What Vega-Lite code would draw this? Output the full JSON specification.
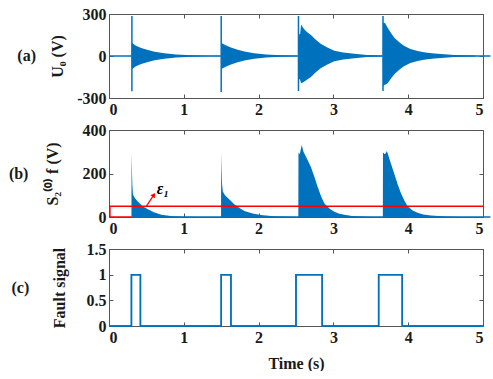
{
  "$schema": "https://vega.github.io/schema/vega-lite/v6.json",
  "padding": {"left": 8, "top": 6, "right": 0, "bottom": 0},
  "background": "white",
  "config": {
    "view": {"stroke": null},
    "font": "Liberation Serif",
    "axis": {
      "labelFont": "Liberation Serif", "labelFontSize": 16, "labelFontWeight": "bold", "labelColor": "#1a1a1a",
      "domainColor": "#555555", "tickColor": "#555555", "tickSize": -4, "grid": false,
      "titleFont": "Liberation Serif", "titleFontSize": 16, "titleFontWeight": "bold", "titleColor": "#1a1a1a",
      "labelPadding": 7, "labelExpr": "'' + datum.value"
    },
    "title": {"font": "Liberation Serif", "fontSize": 16, "fontWeight": "bold", "color": "#1a1a1a"}
  },
  "datasets": {
    "base": [{"t": 0, "v": 0}, {"t": 5.1, "v": 0}],
    "baseb": [{"t": 0.3, "v": 0}, {"t": 5.1, "v": 0}],
    "ua": [
      {"b": 1, "t": 0.304, "hi": 0, "lo": 0}, {"b": 1, "t": 0.307, "hi": 95, "lo": -95}, {"b": 1, "t": 0.32, "hi": 90, "lo": -90},
      {"b": 1, "t": 0.36, "hi": 74, "lo": -74}, {"b": 1, "t": 0.43, "hi": 58, "lo": -58}, {"b": 1, "t": 0.52, "hi": 42, "lo": -42},
      {"b": 1, "t": 0.61, "hi": 31, "lo": -31}, {"b": 1, "t": 0.74, "hi": 19, "lo": -19}, {"b": 1, "t": 0.9, "hi": 10, "lo": -10},
      {"b": 1, "t": 1.1, "hi": 5, "lo": -5}, {"b": 1, "t": 1.3, "hi": 2, "lo": -2}, {"b": 1, "t": 1.49, "hi": 1, "lo": -1},
      {"b": 2, "t": 1.498, "hi": 0, "lo": 0}, {"b": 2, "t": 1.501, "hi": 95, "lo": -95}, {"b": 2, "t": 1.515, "hi": 90, "lo": -90},
      {"b": 2, "t": 1.56, "hi": 76, "lo": -76}, {"b": 2, "t": 1.63, "hi": 60, "lo": -60}, {"b": 2, "t": 1.72, "hi": 44, "lo": -44},
      {"b": 2, "t": 1.81, "hi": 32, "lo": -32}, {"b": 2, "t": 1.94, "hi": 20, "lo": -20}, {"b": 2, "t": 2.1, "hi": 10, "lo": -10},
      {"b": 2, "t": 2.3, "hi": 5, "lo": -5}, {"b": 2, "t": 2.52, "hi": 2, "lo": -2},
      {"b": 3, "t": 2.531, "hi": 0, "lo": 0}, {"b": 3, "t": 2.534, "hi": 155, "lo": -160}, {"b": 3, "t": 2.555, "hi": 155, "lo": -170},
      {"b": 3, "t": 2.568, "hi": 225, "lo": -195}, {"b": 3, "t": 2.59, "hi": 205, "lo": -190}, {"b": 3, "t": 2.613, "hi": 190, "lo": -182},
      {"b": 3, "t": 2.65, "hi": 170, "lo": -168}, {"b": 3, "t": 2.7, "hi": 150, "lo": -150}, {"b": 3, "t": 2.76, "hi": 118, "lo": -118},
      {"b": 3, "t": 2.835, "hi": 86, "lo": -86}, {"b": 3, "t": 2.92, "hi": 60, "lo": -60}, {"b": 3, "t": 3.013, "hi": 38, "lo": -38},
      {"b": 3, "t": 3.13, "hi": 25, "lo": -25}, {"b": 3, "t": 3.28, "hi": 16, "lo": -16}, {"b": 3, "t": 3.45, "hi": 8, "lo": -8},
      {"b": 3, "t": 3.66, "hi": 3, "lo": -3},
      {"b": 4, "t": 3.661, "hi": 0, "lo": 0}, {"b": 4, "t": 3.664, "hi": 238, "lo": -215}, {"b": 4, "t": 3.69, "hi": 236, "lo": -205},
      {"b": 4, "t": 3.725, "hi": 202, "lo": -195}, {"b": 4, "t": 3.77, "hi": 165, "lo": -160}, {"b": 4, "t": 3.814, "hi": 131, "lo": -131},
      {"b": 4, "t": 3.88, "hi": 98, "lo": -98}, {"b": 4, "t": 3.948, "hi": 71, "lo": -71}, {"b": 4, "t": 4.03, "hi": 50, "lo": -50},
      {"b": 4, "t": 4.125, "hi": 36, "lo": -36}, {"b": 4, "t": 4.23, "hi": 25, "lo": -25}, {"b": 4, "t": 4.35, "hi": 17, "lo": -17},
      {"b": 4, "t": 4.615, "hi": 7, "lo": -7}, {"b": 4, "t": 4.9, "hi": 3, "lo": -3}
    ],
    "spikes": [
      {"t": 0.306, "hi": 286, "lo": -252}, {"t": 1.5, "hi": 286, "lo": -258},
      {"t": 2.533, "hi": 286, "lo": -250}, {"t": 3.663, "hi": 286, "lo": -250}
    ],
    "sb": [
      {"b": 1, "t": 0.3, "s": 0}, {"b": 1, "t": 0.302, "s": 297}, {"b": 1, "t": 0.306, "s": 230}, {"b": 1, "t": 0.312, "s": 150},
      {"b": 1, "t": 0.32, "s": 105}, {"b": 1, "t": 0.343, "s": 88}, {"b": 1, "t": 0.387, "s": 70}, {"b": 1, "t": 0.45, "s": 50},
      {"b": 1, "t": 0.52, "s": 36}, {"b": 1, "t": 0.6, "s": 22}, {"b": 1, "t": 0.7, "s": 10}, {"b": 1, "t": 0.85, "s": 4},
      {"b": 1, "t": 1.0, "s": 1.5}, {"b": 1, "t": 1.2, "s": 0.5}, {"b": 1, "t": 1.49, "s": 0},
      {"b": 2, "t": 1.498, "s": 0}, {"b": 2, "t": 1.5, "s": 297}, {"b": 2, "t": 1.505, "s": 220}, {"b": 2, "t": 1.512, "s": 150},
      {"b": 2, "t": 1.522, "s": 117}, {"b": 2, "t": 1.55, "s": 100}, {"b": 2, "t": 1.589, "s": 87}, {"b": 2, "t": 1.678, "s": 57},
      {"b": 2, "t": 1.75, "s": 40}, {"b": 2, "t": 1.81, "s": 28}, {"b": 2, "t": 1.92, "s": 16}, {"b": 2, "t": 2.03, "s": 9},
      {"b": 2, "t": 2.2, "s": 3}, {"b": 2, "t": 2.4, "s": 1}, {"b": 2, "t": 2.52, "s": 0},
      {"b": 3, "t": 2.531, "s": 0}, {"b": 3, "t": 2.533, "s": 297}, {"b": 3, "t": 2.55, "s": 289}, {"b": 3, "t": 2.577, "s": 331},
      {"b": 3, "t": 2.6, "s": 300}, {"b": 3, "t": 2.65, "s": 265}, {"b": 3, "t": 2.701, "s": 229}, {"b": 3, "t": 2.75, "s": 180},
      {"b": 3, "t": 2.79, "s": 138}, {"b": 3, "t": 2.835, "s": 95}, {"b": 3, "t": 2.88, "s": 62}, {"b": 3, "t": 2.95, "s": 38},
      {"b": 3, "t": 3.013, "s": 24}, {"b": 3, "t": 3.08, "s": 15}, {"b": 3, "t": 3.147, "s": 10}, {"b": 3, "t": 3.25, "s": 5},
      {"b": 3, "t": 3.37, "s": 2}, {"b": 3, "t": 3.5, "s": 0.5}, {"b": 3, "t": 3.66, "s": 0},
      {"b": 4, "t": 3.661, "s": 0}, {"b": 4, "t": 3.663, "s": 297}, {"b": 4, "t": 3.69, "s": 289}, {"b": 4, "t": 3.716, "s": 304},
      {"b": 4, "t": 3.76, "s": 255}, {"b": 4, "t": 3.814, "s": 199}, {"b": 4, "t": 3.86, "s": 150}, {"b": 4, "t": 3.903, "s": 109},
      {"b": 4, "t": 3.95, "s": 75}, {"b": 4, "t": 3.992, "s": 49}, {"b": 4, "t": 4.06, "s": 30}, {"b": 4, "t": 4.125, "s": 19},
      {"b": 4, "t": 4.2, "s": 12}, {"b": 4, "t": 4.303, "s": 7}, {"b": 4, "t": 4.5, "s": 2}, {"b": 4, "t": 4.7, "s": 0.5},
      {"b": 4, "t": 5.0, "s": 0}
    ],
    "eps": [
      {"i": 0, "t": 0.3, "v": 0}, {"i": 1, "t": 0.012, "v": 0}, {"i": 2, "t": 0.012, "v": 50}, {"i": 3, "t": 5, "v": 50}
    ],
    "arrow": [{"t": 0.5, "v": 50, "t2": 0.6, "v2": 102}],
    "epslabel": [{"t": 0.64, "v": 128, "label": "ε₁"}],
    "fault": [
      {"i": 0, "t": 0, "f": 0}, {"i": 1, "t": 0.3, "f": 0}, {"i": 2, "t": 0.3, "f": 1}, {"i": 3, "t": 0.42, "f": 1}, {"i": 4, "t": 0.42, "f": 0},
      {"i": 5, "t": 1.5, "f": 0}, {"i": 6, "t": 1.5, "f": 1}, {"i": 7, "t": 1.63, "f": 1}, {"i": 8, "t": 1.63, "f": 0},
      {"i": 9, "t": 2.5, "f": 0}, {"i": 10, "t": 2.5, "f": 1}, {"i": 11, "t": 2.85, "f": 1}, {"i": 12, "t": 2.85, "f": 0},
      {"i": 13, "t": 3.605, "f": 0}, {"i": 14, "t": 3.605, "f": 1}, {"i": 15, "t": 3.92, "f": 1}, {"i": 16, "t": 3.92, "f": 0},
      {"i": 17, "t": 5, "f": 0}
    ]
  },
  "spacing": 32,
  "bounds": "flush",
  "vconcat": [
    {
      "width": 374, "height": 84,
      "title": {"text": "(a)", "orient": "left", "angle": 0, "align": "right", "baseline": "middle", "anchor": "middle", "offset": -5},
      "resolve": {"axis": {"x": "independent", "y": "independent"}},
      "layer": [
        {
          "data": {"name": "base"},
          "mark": {"type": "line", "color": "#0072BD", "strokeWidth": 1.3, "clip": false},
          "encoding": {
            "x": {"field": "t", "type": "quantitative", "scale": {"domain": [0, 5], "nice": false, "zero": false},
                  "axis": {"orient": "bottom", "values": [0, 1, 2, 3, 4, 5], "title": null}},
            "y": {"field": "v", "type": "quantitative", "scale": {"domain": [-300, 300], "nice": false},
                  "axis": {"orient": "left", "values": [-300, 0, 300], "title": "U₀ (V)", "titlePadding": 11}}
          }
        },
        {
          "data": {"name": "ua"},
          "mark": {"type": "area", "color": "#0072BD", "opacity": 1},
          "encoding": {
            "x": {"field": "t", "type": "quantitative", "scale": {"domain": [0, 5], "nice": false, "zero": false},
                  "axis": {"orient": "top", "values": [0, 1, 2, 3, 4, 5], "labels": false, "title": null}},
            "y": {"field": "hi", "type": "quantitative", "scale": {"domain": [-300, 300], "nice": false},
                  "axis": {"orient": "right", "values": [-300, 0, 300], "labels": false, "title": null}},
            "y2": {"field": "lo"},
            "detail": {"field": "b", "type": "nominal"}
          }
        },
        {
          "data": {"name": "spikes"},
          "mark": {"type": "rule", "color": "#0072BD", "strokeWidth": 1.5},
          "encoding": {
            "x": {"field": "t", "type": "quantitative", "axis": null},
            "y": {"field": "hi", "type": "quantitative", "axis": null},
            "y2": {"field": "lo"}
          }
        }
      ]
    },
    {
      "width": 374, "height": 87,
      "title": {"text": "(b)", "orient": "left", "angle": 0, "align": "right", "baseline": "middle", "anchor": "middle", "offset": -4},
      "resolve": {"axis": {"x": "independent", "y": "independent"}},
      "layer": [
        {
          "data": {"name": "baseb"},
          "mark": {"type": "line", "color": "#0072BD", "strokeWidth": 1.5, "clip": false},
          "encoding": {
            "x": {"field": "t", "type": "quantitative", "scale": {"domain": [0, 5], "nice": false, "zero": false},
                  "axis": {"orient": "bottom", "values": [0, 1, 2, 3, 4, 5], "title": null}},
            "y": {"field": "v", "type": "quantitative", "scale": {"domain": [0, 400], "nice": false},
                  "axis": {"orient": "left", "values": [0, 200, 400], "title": "S₂⁽⁰⁾ f (V)", "titlePadding": 22}}
          }
        },
        {
          "data": {"name": "sb"},
          "mark": {"type": "area", "color": "#0072BD", "opacity": 1},
          "encoding": {
            "x": {"field": "t", "type": "quantitative", "scale": {"domain": [0, 5], "nice": false, "zero": false},
                  "axis": {"orient": "top", "values": [0, 1, 2, 3, 4, 5], "labels": false, "title": null}},
            "y": {"field": "s", "type": "quantitative", "scale": {"domain": [0, 400], "nice": false},
                  "axis": {"orient": "right", "values": [0, 200, 400], "labels": false, "title": null}},
            "y2": {"datum": 0},
            "detail": {"field": "b", "type": "nominal"}
          }
        },
        {
          "data": {"name": "eps"},
          "mark": {"type": "line", "color": "#FF0000", "strokeWidth": 1.5},
          "encoding": {
            "x": {"field": "t", "type": "quantitative", "axis": null},
            "y": {"field": "v", "type": "quantitative", "axis": null},
            "order": {"field": "i", "type": "quantitative"}
          }
        },
        {
          "data": {"name": "arrow"},
          "mark": {"type": "rule", "color": "#FF0000", "strokeWidth": 1.2},
          "encoding": {
            "x": {"field": "t", "type": "quantitative", "axis": null},
            "y": {"field": "v", "type": "quantitative", "axis": null},
            "x2": {"field": "t2"},
            "y2": {"field": "v2"}
          }
        },
        {
          "data": {"name": "arrow"},
          "mark": {"type": "point", "shape": "triangle-up", "filled": true, "color": "#FF0000", "size": 28, "angle": 34, "opacity": 1},
          "encoding": {
            "x": {"field": "t2", "type": "quantitative", "axis": null},
            "y": {"field": "v2", "type": "quantitative", "axis": null}
          }
        },
        {
          "data": {"name": "epslabel"},
          "mark": {"type": "text", "font": "Liberation Serif", "fontSize": 16, "fontWeight": "bold", "fontStyle": "italic", "align": "left", "baseline": "middle", "color": "#000000"},
          "encoding": {
            "x": {"field": "t", "type": "quantitative", "axis": null},
            "y": {"field": "v", "type": "quantitative", "axis": null},
            "text": {"field": "label"}
          }
        }
      ]
    },
    {
      "width": 374, "height": 77,
      "title": {"text": "(c)", "orient": "left", "angle": 0, "align": "right", "baseline": "middle", "anchor": "middle", "offset": 4},
      "resolve": {"axis": {"x": "independent", "y": "independent"}},
      "layer": [
        {
          "data": {"name": "fault"},
          "mark": {"type": "line", "color": "#0072BD", "strokeWidth": 1.5},
          "encoding": {
            "x": {"field": "t", "type": "quantitative", "scale": {"domain": [0, 5], "nice": false, "zero": false},
                  "axis": {"orient": "bottom", "values": [0, 1, 2, 3, 4, 5], "title": "Time (s)", "titlePadding": 10}},
            "y": {"field": "f", "type": "quantitative", "scale": {"domain": [0, 1.5], "nice": false},
                  "axis": {"orient": "left", "values": [0, 0.5, 1, 1.5], "title": "Fault signal", "titlePadding": 19}},
            "order": {"field": "i", "type": "quantitative"}
          }
        },
        {
          "data": {"name": "fault"},
          "mark": {"type": "line", "color": "#0072BD", "strokeWidth": 1.5},
          "encoding": {
            "x": {"field": "t", "type": "quantitative", "scale": {"domain": [0, 5], "nice": false, "zero": false},
                  "axis": {"orient": "top", "values": [0, 1, 2, 3, 4, 5], "labels": false, "title": null}},
            "y": {"field": "f", "type": "quantitative", "scale": {"domain": [0, 1.5], "nice": false},
                  "axis": {"orient": "right", "values": [0, 0.5, 1, 1.5], "labels": false, "title": null}},
            "order": {"field": "i", "type": "quantitative"}
          }
        }
      ]
    }
  ]
}
